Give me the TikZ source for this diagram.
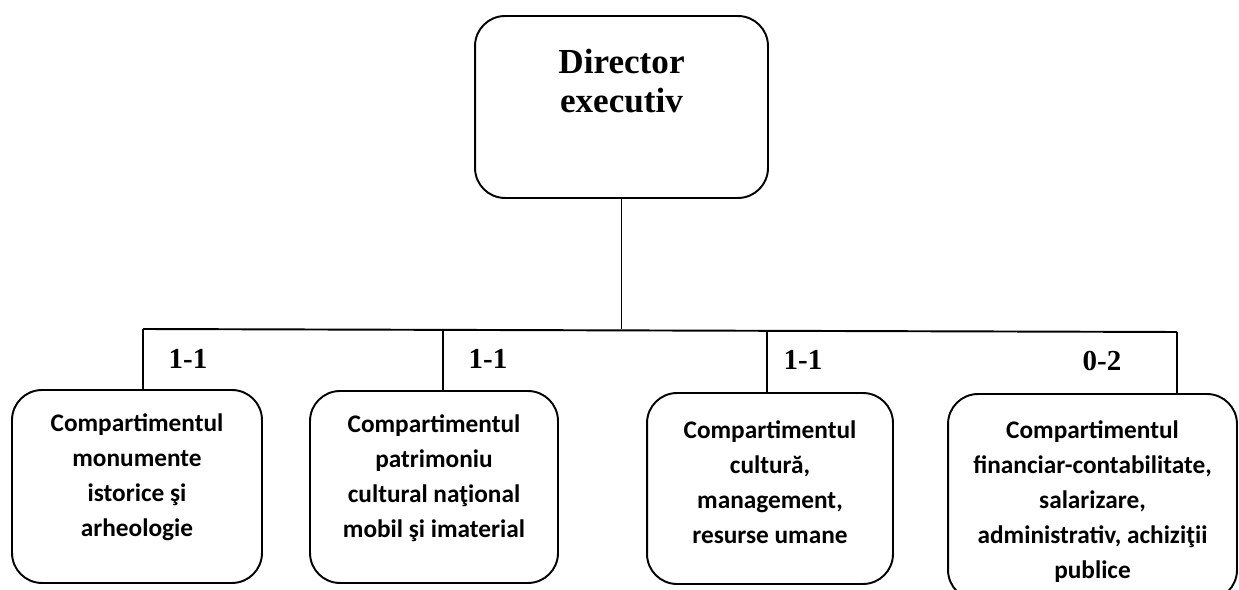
\documentclass[tikz,border=0pt]{standalone}
\usepackage{fontspec}
\setmainfont{Liberation Serif}
\newfontfamily\calibri{Carlito}
\usetikzlibrary{positioning}
\tikzset{
  orgbox/.style={draw, line width=1.1pt, rounded corners=0.6cm, inner sep=0pt},
  orgline/.style={line width=1.1pt},
  unittext/.style={align=center, inner sep=0pt, font=\calibri\bfseries\fontsize{14.4}{19.9}\selectfont},
  headtext/.style={align=center, inner sep=0pt, font=\bfseries\fontsize{20}{22.2}\selectfont},
  countlabel/.style={inner sep=0pt, font=\bfseries\fontsize{16.5}{18}\selectfont}
}
\begin{document}
\begin{tikzpicture}[x=0.02cm,y=-0.02cm]
  \useasboundingbox (0,0) rectangle (1239,590);
  \clip (0,0) rectangle (1239,590);

  % Director box
  \node[orgbox, minimum width=5.86cm, minimum height=3.64cm] (dir) at (621.5,107) {};
  \node[headtext, below=0.68cm of dir.north] (dirtext) {Director\\executiv};

  % Compartment boxes
  \node[orgbox, minimum width=5.0cm, minimum height=3.86cm] (c1) at (137,486.5) {};
  \node[orgbox, minimum width=4.96cm, minimum height=3.84cm] (c2) at (434,487) {};
  \node[orgbox, minimum width=4.92cm, minimum height=3.82cm] (c3) at (770,488.5) {};
  \node[orgbox, minimum width=5.78cm, minimum height=4.12cm] (c4) at (1092.5,497) {};

  \node[unittext, below=0.48cm of c1.north] (t1) {Compartimentul\\monumente\\istorice şi\\arheologie};
  \node[unittext, below=0.48cm of c2.north] (t2) {Compartimentul\\patrimoniu\\cultural naţional\\mobil şi imaterial};
  \node[unittext, below=0.57cm of c3.north] (t3) {Compartimentul\\cultură,\\management,\\resurse umane};
  \node[unittext, below=0.54cm of c4.north] (t4) {Compartimentul\\financiar-contabilitate,\\salarizare,\\administrativ, achiziţii\\publice};

  % Junctions on the bar
  \coordinate (j1) at (143,329);
  \coordinate (j2) at (443,329);
  \coordinate (j3) at (767,331);
  \coordinate (j4) at (1177,332);

  % Drawing connectors
  \draw[orgline] (dir.south) -- (dir.south |- j1);
  \draw[orgline] (j1) -- (j4);
  \draw[orgline] (j1) -- (j1 |- c1.north);
  \draw[orgline] (j2) -- (j2 |- c2.north);
  \draw[orgline] (j3) -- (j3 |- c3.north);
  \draw[orgline] (j4) -- (j4 |- c4.north);

  % Staff numbers
  \node[countlabel] (n1) at (188,359) {1-1};
  \node[countlabel] (n2) at (488,359) {1-1};
  \node[countlabel] (n3) at (803,360) {1-1};
  \node[countlabel] (n4) at (1102,361) {0-2};
\end{tikzpicture}
\end{document}
